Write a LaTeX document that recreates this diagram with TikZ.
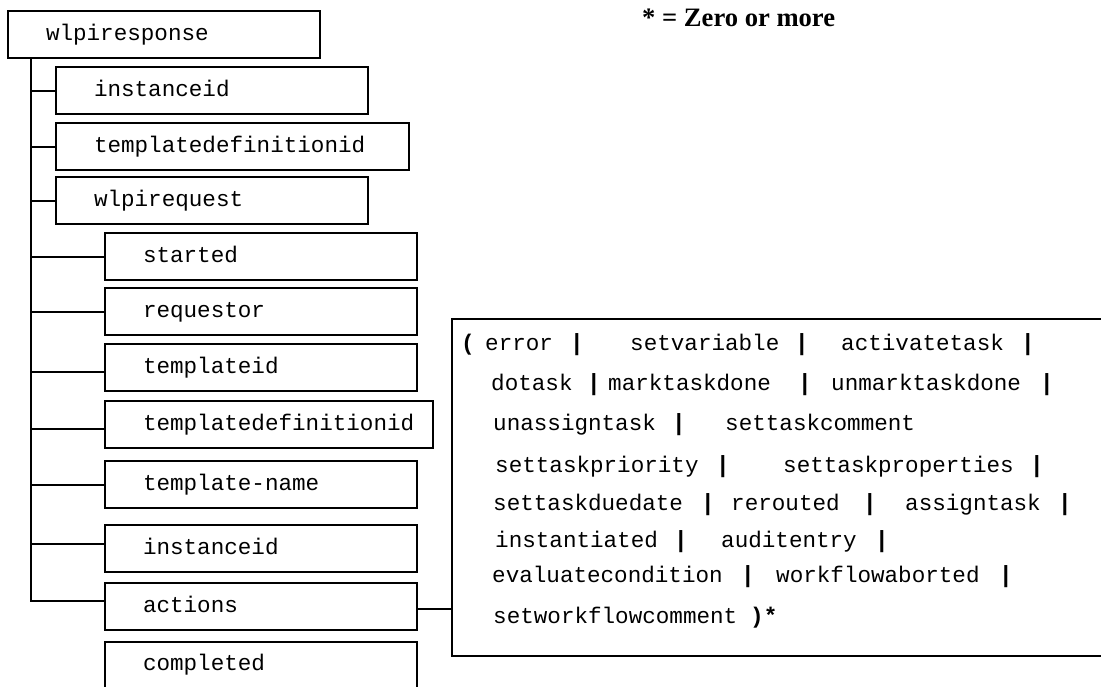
\documentclass[tikz,border=0pt]{standalone}
\usepackage{fontspec}
\usepackage{tikz}
\setmainfont{Liberation Serif}
\newfontfamily\ttlabel{Liberation Mono}
\newfontfamily\barsym{Liberation Sans}
\newcommand{\elemtext}[2]{\makebox[#1pt][l]{\hspace*{26pt}#2}}

\tikzset{
  elem/.style={draw=black, line width=2pt, anchor=north west, minimum height=47pt,
    inner xsep=12pt, inner ysep=0pt, text height=17pt, text depth=5.6pt,
    font=\ttlabel\fontsize{22.6}{27}\selectfont},
  tree/.style={line width=2pt},
  word/.style={anchor=base west, inner sep=0pt, font=\ttlabel\fontsize{22.6}{27}\selectfont},
  grp/.style={anchor=base west, inner sep=0pt, font=\ttlabel\bfseries\fontsize{22.6}{27}\selectfont},
  sep/.style={anchor=base, inner sep=0pt, font=\barsym\bfseries\fontsize{23.4}{27}\selectfont},
}

\begin{document}
\begin{tikzpicture}[x=1pt, y=-1pt]
\useasboundingbox (0,0) rectangle (1101,686);
\clip (0,0) rectangle (1101,686);
\node[anchor=base west, inner sep=0pt, font=\bfseries\fontsize{26.6}{30}\selectfont] (note) at (642,26) {* = Zero or more};
\node[elem] (resp) at (7,10) {\elemtext{288}{wlpiresponse}};
\node[elem] (iid) at (55,66) {\elemtext{288}{instanceid}};
\node[elem] (tdid) at (55,122) {\elemtext{329}{templatedefinitionid}};
\node[elem] (req) at (55,176) {\elemtext{288}{wlpirequest}};
\node[elem] (start) at (104,232) {\elemtext{288}{started}};
\node[elem] (reqr) at (104,287) {\elemtext{288}{requestor}};
\node[elem] (tid) at (104,343) {\elemtext{288}{templateid}};
\node[elem] (tdef) at (104,400) {\elemtext{304}{templatedefinitionid}};
\node[elem] (tname) at (104,460) {\elemtext{288}{template-name}};
\node[elem] (iid2) at (104,524) {\elemtext{288}{instanceid}};
\node[elem] (act) at (104,582) {\elemtext{288}{actions}};
\node[elem, minimum height=70pt, text depth=31pt] (done) at (104,641) {\elemtext{288}{completed}};
\node[draw, line width=2pt, anchor=north west, minimum width=700pt, minimum height=337pt, inner sep=0pt] (ops) at (451,318) {};

\coordinate (trunk) at ([xshift=24pt]resp.south west);
\draw[tree] (trunk) |- ([yshift=6pt]act.west);
\foreach \n in {iid,tdid,req,start,reqr,tname}
  \draw[tree] (trunk |- \n.west) -- (\n.west);
\draw[tree] ([yshift=-4pt]tid.west -| trunk) -- ([yshift=-4pt]tid.west);
\draw[tree] ([yshift=-4pt]tdef.west -| trunk) -- ([yshift=-4pt]tdef.west);
\draw[tree] ([yshift=5pt]iid2.west -| trunk) -- ([yshift=5pt]iid2.west);
\draw[tree] ([yshift=-2pt]act.east) -- ([yshift=-2pt]act.east -| ops.west);

\node[grp] (open) at (461,350) {(};
\node[grp] (close) at (750,623) {)*};
\foreach \x/\y/\w [count=\i] in {485/350/error, 630/350/setvariable, 841/350/activatetask,
    491/390/dotask, 608/390/marktaskdone, 831/390/unmarktaskdone,
    493/430/unassigntask, 725/430/settaskcomment,
    495/472/settaskpriority, 783/472/settaskproperties,
    493/510/settaskduedate, 731/510/rerouted, 905/510/assigntask,
    495/547/instantiated, 721/547/auditentry,
    492/582/evaluatecondition, 776/582/workflowaborted,
    493/623/setworkflowcomment}
  \node[word] (w\i) at (\x,\y) {\w};
\foreach \x/\y [count=\i] in {577/350, 802/350, 1028/350, 594/390, 805/390, 1047/390,
    679/430, 723/472, 1037/472, 708/510, 870/510, 1065/510,
    681/547, 882/547, 748/582, 1006/582}
  \node[sep] (s\i) at (\x,\y) {|};
\end{tikzpicture}
\end{document}
